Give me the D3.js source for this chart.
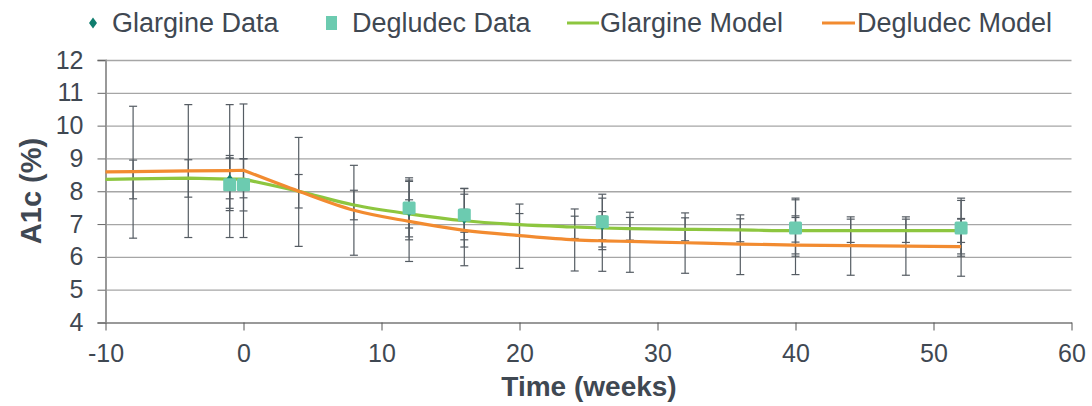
<!DOCTYPE html>
<meta charset="utf-8">
<style>
    body { margin: 0; background: #fff; }
    text { font-family: "Liberation Sans", Arial, sans-serif; fill: #3f4852; }
    .grid line { stroke: #a6a6a6; stroke-width: 1.3px; }
    .err { stroke: #555c63; stroke-width: 1.2px; }
    .line { fill: none; stroke-width: 3.2px; }
</style>

<body>
    <script src="https://d3js.org/d3.v7.min.js"></script>
    <script>

        // model curves (weeks)
        var modelTimes = [-10, -8, -4, -1, 0, 4, 8, 12, 16, 20, 24, 26, 28, 32, 36, 40, 44, 48, 52];
        var glargineModel = [8.36, 8.38, 8.40, 8.37, 8.37, 8.0, 7.58, 7.31, 7.10, 6.98, 6.91, 6.88, 6.86, 6.84, 6.82, 6.80, 6.80, 6.80, 6.80];
        var degludecModel = [8.59, 8.60, 8.62, 8.63, 8.64, 8.0, 7.42, 7.08, 6.81, 6.65, 6.52, 6.49, 6.47, 6.43, 6.39, 6.36, 6.34, 6.33, 6.31];

        // model error bars (no bar at -10)
        var glargineModelLow = [null, 7.77, 7.82, 7.77, 7.80, 7.49, 7.13, 6.88, 6.75, 6.64, 6.56, 6.52, 6.51, 6.49, 6.46, 6.45, 6.44, 6.44, 6.44];
        var glargineModelHigh = [null, 8.95, 8.96, 9.01, 8.99, 8.51, 8.03, 7.74, 7.45, 7.32, 7.24, 7.24, 7.20, 7.19, 7.16, 7.20, 7.15, 7.15, 7.15];
        var degludecModelLow = [null, 6.57, 6.59, 6.59, 6.59, 6.32, 6.05, 5.86, 5.73, 5.65, 5.57, 5.56, 5.53, 5.50, 5.46, 5.46, 5.44, 5.44, 5.41];
        var degludecModelHigh = [null, 10.59, 10.64, 10.64, 10.66, 9.64, 8.79, 8.30, 7.91, 7.61, 7.46, 7.38, 7.36, 7.34, 7.28, 7.25, 7.22, 7.22, 7.17];

        // observed data
        var glargineTimes = [-1, 12, 16, 26, 40, 52];
        var glargineValues = [8.35, 7.39, 7.17, 6.97, 6.88, 6.88];
        var glargineLow = [7.48, 6.52, 6.30, 6.30, 6.09, 6.09];
        var glargineHigh = [9.09, 8.34, 8.08, 7.79, 7.79, 7.79];

        var degludecTimes = [-1, 0, 12, 16, 26, 40, 52];
        var degludecValues = [8.2, 8.2, 7.49, 7.28, 7.07, 6.88, 6.88];
        var degludecLow = [7.41, 7.40, 6.61, 6.52, 6.22, 6.02, 6.02];
        var degludecHigh = [9.01, 8.99, 8.41, 8.09, 7.91, 7.74, 7.72];

        var xTicks = [-10, 0, 10, 20, 30, 40, 50, 60];
        var yTicks = [4, 5, 6, 7, 8, 9, 10, 11, 12];

        var greenColor = "#8dc63f", orangeColor = "#f28b30";
        var squareColor = "#6ccbb0", diamondColor = "#0f7d6e";

        var width = 1092, height = 406;
        var x = d3.scaleLinear().domain([-10, 60]).range([105.5, 1071.5]);
        var y = d3.scaleLinear().domain([4, 12]).range([322.5, 60]);

        var svg = d3.select("body").append("svg")
            .attr("width", width)
            .attr("height", height);

        // horizontal gridlines
        svg.append("g")
            .attr("class", "grid")
            .attr("transform", "translate(" + x(-10) + ",0)")
            .call(d3.axisLeft(y).tickValues(yTicks).tickSize(-(x(60) - x(-10))).tickFormat(""))
            .call(function (g) { g.select(".domain").remove(); });

        // left axis
        var yAxis = svg.append("g")
            .attr("transform", "translate(" + x(-10) + ",0)")
            .call(d3.axisLeft(y).tickValues(yTicks).tickSize(8).tickPadding(14).tickFormat(String));
        yAxis.select(".domain").attr("stroke", "#999").attr("stroke-width", 2);
        yAxis.selectAll(".tick line").attr("stroke", "#666");
        yAxis.selectAll("text").attr("font-size", "25px").style("fill", "#3f4852")
            .attr("font-family", "Liberation Sans, Arial, sans-serif");

        // bottom axis
        var xAxis = svg.append("g")
            .attr("transform", "translate(0," + y(4) + ")")
            .call(d3.axisBottom(x).tickValues(xTicks).tickSize(8).tickPadding(14).tickSizeOuter(0).tickFormat(String));
        xAxis.select(".domain").attr("stroke", "#999").attr("stroke-width", 2);
        xAxis.selectAll(".tick line").attr("stroke", "#555");
        xAxis.selectAll("text").attr("font-size", "25px").style("fill", "#3f4852")
            .attr("font-family", "Liberation Sans, Arial, sans-serif");

        // error bars
        function errorBars(times, lows, highs) {
            var bars = [];
            times.forEach(function (t, i) {
                if (lows[i] != null) bars.push({ t: t, lo: lows[i], hi: highs[i] });
            });
            var g = svg.append("g").attr("class", "err");
            g.selectAll("line.v").data(bars).enter().append("line")
                .attr("x1", function (d) { return x(d.t); })
                .attr("x2", function (d) { return x(d.t); })
                .attr("y1", function (d) { return y(d.lo); })
                .attr("y2", function (d) { return y(d.hi); });
            ["lo", "hi"].forEach(function (k) {
                g.selectAll("line." + k).data(bars).enter().append("line")
                    .attr("x1", function (d) { return x(d.t) - 4; })
                    .attr("x2", function (d) { return x(d.t) + 4; })
                    .attr("y1", function (d) { return y(d[k]); })
                    .attr("y2", function (d) { return y(d[k]); });
            });
        }
        errorBars(modelTimes, degludecModelLow, degludecModelHigh);
        errorBars(modelTimes, glargineModelLow, glargineModelHigh);
        errorBars(glargineTimes, glargineLow, glargineHigh);
        errorBars(degludecTimes, degludecLow, degludecHigh);

        // model lines: straight run-in up to week 0, smooth decline afterwards
        var runIn = d3.line()
            .x(function (d) { return x(d[0]); })
            .y(function (d) { return y(d[1]); });
        var decline = d3.line()
            .x(function (d) { return x(d[0]); })
            .y(function (d) { return y(d[1]); })
            .curve(d3.curveMonotoneX);

        function drawModel(values, color) {
            var pts = d3.zip(modelTimes, values);
            svg.append("path")
                .attr("class", "line")
                .style("stroke", color)
                .attr("d", runIn(pts.filter(function (d) { return d[0] <= 0; }))
                    + decline(pts.filter(function (d) { return d[0] >= 0; })).replace(/^M/, "L"));
        }
        drawModel(glargineModel, greenColor);
        drawModel(degludecModel, orangeColor);

        // glargine data (diamonds)
        var diamond = "M0,-5.5L4,0L0,5.5L-4,0Z";
        svg.selectAll(".gla").data(d3.zip(glargineTimes, glargineValues)).enter().append("path")
            .attr("class", "gla")
            .attr("d", diamond)
            .attr("fill", diamondColor)
            .attr("transform", function (d) { return "translate(" + x(d[0]) + "," + y(d[1]) + ")"; });

        // degludec data (squares)
        svg.selectAll(".deg").data(d3.zip(degludecTimes, degludecValues)).enter().append("rect")
            .attr("class", "deg")
            .attr("x", function (d) { return x(d[0]) - 6.5; })
            .attr("y", function (d) { return y(d[1]) - 6.5; })
            .attr("width", 13)
            .attr("height", 13)
            .attr("rx", 1.5)
            .attr("fill", squareColor);

        // axis titles
        svg.append("text")
            .attr("x", 589)
            .attr("y", 396)
            .attr("text-anchor", "middle")
            .attr("font-size", "28px")
            .attr("font-weight", "bold")
            .text("Time (weeks)");

        svg.append("text")
            .attr("transform", "translate(41,191) rotate(-90)")
            .attr("text-anchor", "middle")
            .attr("font-size", "29px")
            .attr("font-weight", "bold")
            .text("A1c (%)");

        // legend
        var legend = svg.append("g").attr("font-size", "27px");
        legend.append("path").attr("d", diamond).attr("fill", diamondColor)
            .attr("transform", "translate(93,23)");
        legend.append("text").attr("x", 112).attr("y", 32).text("Glargine Data");
        legend.append("rect").attr("x", 326).attr("y", 16).attr("width", 11).attr("height", 14)
            .attr("fill", squareColor);
        legend.append("text").attr("x", 352).attr("y", 32).text("Degludec Data");
        legend.append("line").attr("x1", 567).attr("x2", 599).attr("y1", 23).attr("y2", 23)
            .attr("stroke", greenColor).attr("stroke-width", 3);
        legend.append("text").attr("x", 600).attr("y", 32).text("Glargine Model");
        legend.append("line").attr("x1", 822).attr("x2", 855).attr("y1", 23).attr("y2", 23)
            .attr("stroke", orangeColor).attr("stroke-width", 3);
        legend.append("text").attr("x", 857).attr("y", 32).text("Degludec Model");

    </script>
</body>
